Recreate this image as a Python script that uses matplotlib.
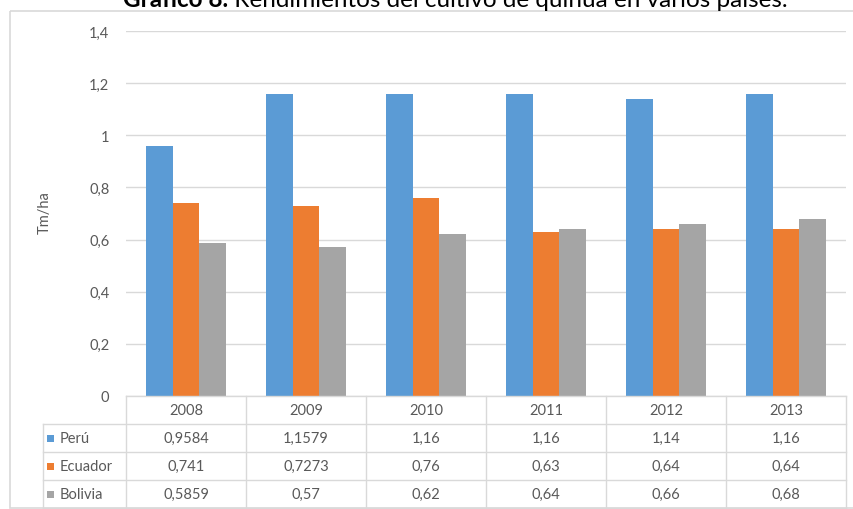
import matplotlib.pyplot as plt
import numpy as np
from matplotlib.patches import Rectangle

plt.rcParams['font.family'] = ['Lato', 'DejaVu Sans']

years = ['2008', '2009', '2010', '2011', '2012', '2013']
series_names = ['Perú', 'Ecuador', 'Bolivia']
peru = [0.9584, 1.1579, 1.16, 1.16, 1.14, 1.16]
ecuador = [0.741, 0.7273, 0.76, 0.63, 0.64, 0.64]
bolivia = [0.5859, 0.57, 0.62, 0.64, 0.66, 0.68]
y_ticks = [0, 0.2, 0.4, 0.6, 0.8, 1.0, 1.2, 1.4]
colors = ['#5B9BD5', '#ED7D31', '#A5A5A5']
title_bold = 'Gráfico 8.'
title_rest = ' Rendimientos del cultivo de quinua en varios países.'


def fmt(v):
    return f'{v:g}'.replace('.', ',')


W, H = 854, 510
text_c = '#595959'
line_c = '#D9D9D9'

fig = plt.figure(figsize=(W / 100, H / 100), dpi=100)
left, right, top, bottom = 126, 846, 32, 397
ax = fig.add_axes([left / W, 1 - bottom / H, (right - left) / W, (bottom - top) / H])

x = np.arange(len(years))
bw = 0.22
data = [peru, ecuador, bolivia]
for i, vals in enumerate(data):
    ax.bar(x + (i - 1) * bw, vals, bw, color=colors[i], zorder=3)

ax.set_xlim(-0.5, len(years) - 0.5)
ax.set_ylim(0, 1.4)
ax.set_yticks(y_ticks, [fmt(v) for v in y_ticks])
ax.set_xticks([])
ax.yaxis.grid(True, color=line_c, linewidth=1)
ax.set_axisbelow(True)
for s in ax.spines.values():
    s.set_visible(False)
ax.tick_params(axis='y', length=0, pad=12, labelsize=10.5, labelcolor=text_c)

fig.text(45 / W, 1 - 213 / H, 'Tm/ha', rotation=90, ha='center', va='center',
         fontsize=10.5, color=text_c)

# overlay in pixel coordinates for table, border and title
ov = fig.add_axes([0, 0, 1, 1])
ov.set_xlim(0, W)
ov.set_ylim(H, 0)
ov.axis('off')

ov.add_patch(Rectangle((10, 12), 850, 497, fill=False, edgecolor=line_c, linewidth=1.2))

col_w = (right - left) / len(years)
row_h = 28
label_left = 43
rows_top = bottom + row_h
n_rows = len(series_names)
table_bottom = rows_top + n_rows * row_h

# horizontal lines
ov.plot([left, right], [bottom, bottom], color=line_c, lw=1)
for r in range(n_rows + 1):
    yy = rows_top + r * row_h
    ov.plot([label_left, right], [yy, yy], color=line_c, lw=1)
# vertical lines
for k in range(len(years) + 1):
    xx = left + k * col_w
    ov.plot([xx, xx], [bottom, table_bottom], color=line_c, lw=1)
ov.plot([label_left, label_left], [rows_top, table_bottom], color=line_c, lw=1)

for k, yr in enumerate(years):
    ov.text(left + (k + 0.5) * col_w, bottom + row_h / 2, yr, ha='center', va='center',
            fontsize=10.5, color=text_c)
for r, (name, vals) in enumerate(zip(series_names, data)):
    yc = rows_top + (r + 0.5) * row_h
    ov.add_patch(Rectangle((47, yc - 3.5), 7, 7, color=colors[r], lw=0))
    ov.text(60, yc, name, ha='left', va='center', fontsize=10.5, color=text_c)
    for k, v in enumerate(vals):
        ov.text(left + (k + 0.5) * col_w, yc, fmt(v), ha='center', va='center',
                fontsize=10.5, color=text_c)

# title, cut at the top like the reference
t1 = ov.text(123, 7, title_bold, ha='left', va='baseline', fontsize=17.5,
             fontweight='bold', color='black')
fig.canvas.draw()
bb = t1.get_window_extent()
ov.text(123 + bb.width, 7, title_rest, ha='left', va='baseline', fontsize=17.5, color='black')

fig.savefig('out.png', dpi=100)
